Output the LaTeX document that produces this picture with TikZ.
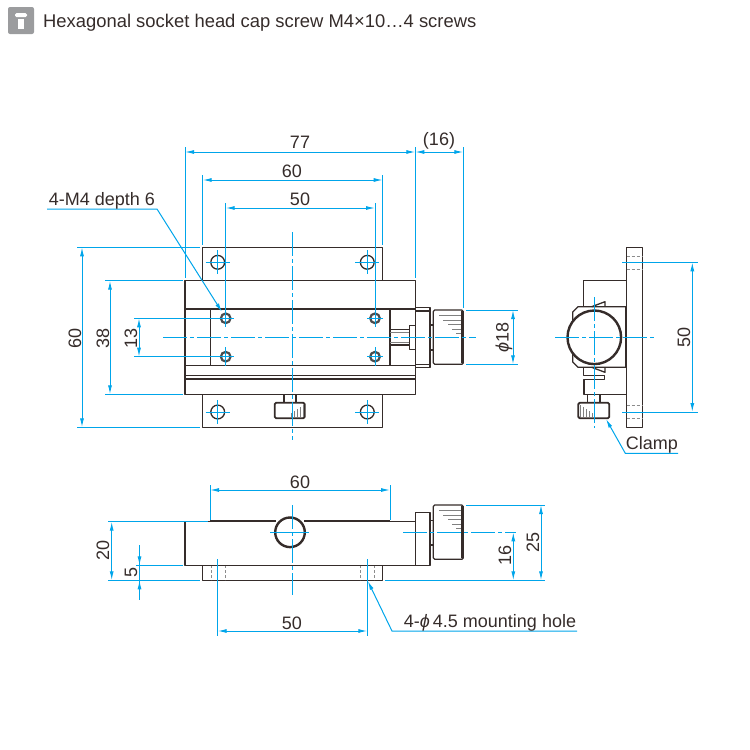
\documentclass[tikz,border=0pt]{standalone}
\usepackage{fontspec}
\setmainfont{Liberation Sans}
\usetikzlibrary{arrows.meta}
\definecolor{dimblue}{HTML}{00A5EA}
\definecolor{inkdark}{HTML}{352C2A}
\definecolor{iconnote}{HTML}{9B9C9E}
\tikzset{
  >={Latex[length=9pt,width=4pt]},
  part/.style={draw=inkdark,line width=1.3pt,line join=round},
  heavy/.style={draw=inkdark,line width=2.4pt},
  hidden/.style={draw=black!45,line width=0.7pt,dash pattern=on 3pt off 2pt},
  knurl/.style={draw=black!50,line width=1pt},
  dimline/.style={draw=dimblue,line width=1pt},
  centre/.style={draw=dimblue,line width=1pt,dash pattern=on 24pt off 3pt on 4pt off 3pt},
  label/.style={font=\fontsize{18}{20}\selectfont,text=inkdark,inner sep=0pt},
}
\begin{document}
\begin{tikzpicture}[x=1pt,y=-1pt]
    \useasboundingbox (0,0) rectangle (750,750);
    % header
    \fill[iconnote,rounded corners=2pt] (8,7) rectangle (34,34);
    \fill[white,rounded corners=1.5pt] (15,17) -- (15,13) -- (27,13) -- (27,17) -- cycle;
    \fill[white] (18,18.5) rectangle (24,29);
    \node[label,anchor=west,font=\fontsize{18.4}{20}\selectfont] (title) at (43,23) {Hexagonal socket head cap screw M4×10…4 screws};

    % front view
    \draw[part] (202.7,280.7) -- (202.7,247.3) -- (382.7,247.3) -- (382.7,280.7);
    \draw[part] (202.7,394.3) -- (202.7,427.3) -- (382.7,427.3) -- (382.7,394.3);
    \draw[part,fill=white] (185,280.7) rectangle (415.3,394.3);
    \draw[part] (185,309) -- (415.3,309);
    \draw[part] (185,365.5) -- (415.3,365.5);
    \draw[part] (185,375.7) -- (415.3,375.7);
    \draw[part] (185,379) -- (415.3,379);
    \draw[part] (210.3,309) -- (210.3,365.5);
    \draw[part] (390,309) -- (390,365.5);
    \foreach \px in {217.7,367.3}
      \foreach \py in {262.3,412}
        \draw[part] (\px,\py) circle (6.9);
    \foreach \px in {225.7,375}
      \foreach \py in {318.3,356.7} {
        \draw[draw=black!70,line width=2.2pt] (\px,\py) circle (4.8);
      }
    % knob at the right
    \draw[part] (390,329.3) -- (409.3,329.3);
    \draw[part] (390,345) -- (409.3,345);
    \draw[knurl] (390,332) -- (409.3,332);
    \draw[knurl] (390,342.5) -- (409.3,342.5);
    \draw[part] (409.3,325.3) rectangle (415.3,349.3);
    \draw[part] (415.3,307.7) rectangle (430,367.7);
    \draw[part] (415.3,311) -- (430,311);
    \draw[part] (415.3,364.3) -- (430,364.3);
    \draw[part] (430,325) rectangle (433.3,350);
    \draw[part,rounded corners=1.5pt] (433.3,310) rectangle (463.3,364.3);
    \draw[heavy] (462.6,311) -- (462.6,363.3);
    \foreach \ky/\kx in {315/439,320/443,324/448,329/452,333/456}
      \draw[knurl] (\kx,\ky) -- (461,\ky);
    % clamp below the front view
    \draw[part] (284,394.3) -- (284,402.7);
    \draw[part] (296,394.3) -- (296,402.7);
    \draw[part,line width=1.8pt,rounded corners=1.5pt] (274.7,402.7) rectangle (304.7,418.3);
    \foreach \kx/\ky in {303/405,300/407,297/409,294/411,291/413}
      \draw[knurl,line width=0.7pt] (\kx,\ky) -- (\kx,417);

    % side view
    \draw[part] (626.7,247.3) rectangle (642.3,427.3);
    \foreach \py in {256,269.3,405,418.3}
      \draw[hidden] (626.7,\py) -- (642.3,\py);
    \draw[part] (583.3,306.7) -- (583.3,280.7) -- (626.7,280.7);
    \draw[part] (583.3,367.3) -- (583.3,375.7) -- (604.3,375.7) -- (604.3,379.7) -- (584,379.7) -- (584,394.3) -- (626.7,394.3);
    \draw[part] (578,306.7) -- (625.7,306.7) -- (625.7,367.3) -- (578,367.3) -- (572.7,362) -- (572.7,312) -- cycle;
    \draw[heavy] (625.7,306.7) -- (625.7,367.3);
    \draw[part] (591.7,306.7) -- (605,301.7) -- (605,306.7);
    \draw[part] (591.7,367.3) -- (605,372.3) -- (605,367.3);
    \draw[draw=inkdark,line width=2.4pt,fill=white] (594.3,337.3) circle (26.8);
    \draw[part] (587.3,394.3) -- (587.3,402.7);
    \draw[part] (600,394.3) -- (600,402.7);
    \draw[part,line width=1.8pt,rounded corners=1.5pt] (578.3,402.7) rectangle (609.3,418.3);
    \foreach \kx/\ky in {580/405,583/407,586/409,589/411,592/413}
      \draw[knurl,line width=0.7pt] (\kx,\ky) -- (\kx,417);

    % top view
    \draw[part] (202.7,565.3) -- (202.7,580.3) -- (382.7,580.3) -- (382.7,565.3);
    \foreach \px in {211,225,360.7,374}
      \draw[hidden] (\px,565.3) -- (\px,580.3);
    \draw[part] (275,521.7) -- (185,521.7) -- (185,565.3) -- (415.3,565.3) -- (415.3,521.7) -- (305,521.7);
    \draw[heavy] (210,521.2) -- (276,521.2);
    \draw[heavy] (304,521.2) -- (390,521.2);
    \draw[draw=inkdark,line width=2.4pt,fill=white] (290,532.3) circle (14.8);
    \draw[part] (415.3,512.3) rectangle (430,565.3);
    \draw[part] (430,520.7) rectangle (433.3,545);
    \draw[part,rounded corners=1.5pt] (433.3,505) rectangle (463.3,559.3);
    \draw[heavy] (462.6,506) -- (462.6,558.3);
    \foreach \ky/\kx in {510/439,515/443,519/448,524/452,528/456}
      \draw[knurl] (\kx,\ky) -- (461,\ky);

    % centre lines
    \draw[centre] (292.7,232) -- (292.7,440);
    \draw[centre] (163,337.3) -- (476,337.3);
    \draw[centre] (555,337.3) -- (655,337.3);
    \draw[centre] (594,297) -- (594,428);
    \draw[centre] (292.7,505) -- (292.7,595);
    \draw[dimline] (270,532.3) -- (309,532.3);
    \draw[centre] (403,532.3) -- (516,532.3);
    \foreach \px in {217.7,367.3}
      \foreach \py in {262.3,412} {
        \draw[dimline] (\px-12,\py) -- (\px+12,\py);
        \draw[dimline] (\px,\py-12) -- (\px,\py+12);
      }
    \foreach \px in {225.7,375}
      \foreach \py in {318.3,356.7}
        \draw[dimline] (\px+8,\py) -- (\px-8,\py);
    \foreach \px in {225.7,375}
      \draw[dimline] (\px,347) -- (\px,366);

    % extension lines
    \draw[dimline] (185,147) -- (185,278);
    \draw[dimline] (415.3,147) -- (415.3,278);
    \draw[dimline] (463.3,147) -- (463.3,308);
    \draw[dimline] (202.7,175) -- (202.7,245);
    \draw[dimline] (382.7,175) -- (382.7,245);
    \draw[dimline] (225.7,203) -- (225.7,327);
    \draw[dimline] (375,203) -- (375,327);
    \draw[dimline] (77,247.3) -- (200,247.3);
    \draw[dimline] (77,427.3) -- (200,427.3);
    \draw[dimline] (105,280.7) -- (183,280.7);
    \draw[dimline] (105,394.3) -- (183,394.3);
    \draw[dimline] (134,318.3) -- (218,318.3);
    \draw[dimline] (134,356.7) -- (218,356.7);
    \draw[dimline] (466,310) -- (518,310);
    \draw[dimline] (466,364.3) -- (518,364.3);
    \draw[dimline] (622,262.3) -- (698,262.3);
    \draw[dimline] (622,412) -- (698,412);
    \draw[dimline] (210,485) -- (210,520);
    \draw[dimline] (390,485) -- (390,520);
    \draw[dimline] (108,521.7) -- (208,521.7);
    \draw[dimline] (136,565.3) -- (183,565.3);
    \draw[dimline] (108,580.3) -- (200,580.3);
    \draw[dimline] (385,580.3) -- (545,580.3);
    \draw[dimline] (466,505) -- (545,505);
    \draw[dimline] (217.7,559) -- (217.7,636);
    \draw[dimline] (367.3,559) -- (367.3,636);

    % dimension lines
    \draw[dimline,<->] (185,152) -- (415.3,152);
    \draw[dimline,<->] (415.3,152) -- (463.3,152);
    \draw[dimline,<->] (202.7,180) -- (382.7,180);
    \draw[dimline,<->] (225.7,208) -- (375,208);
    \draw[dimline,<->] (82,247.3) -- (82,427.3);
    \draw[dimline,<->] (110,280.7) -- (110,394.3);
    \draw[dimline,<->] (139,318.3) -- (139,356.7);
    \draw[dimline,<->] (513,310) -- (513,364.3);
    \draw[dimline,<->] (692.3,262.3) -- (692.3,412);
    \draw[dimline,<->] (210,490) -- (390,490);
    \draw[dimline,<->] (217.7,631) -- (367.3,631);
    \draw[dimline,<->] (111.7,521.7) -- (111.7,580.3);
    \draw[dimline] (139.5,545) -- (139.5,600);
    \draw[dimline,->] (139.5,550) -- (139.5,565.3);
    \draw[dimline,->] (139.5,595) -- (139.5,580.3);
    \draw[dimline,<->] (513.3,532.3) -- (513.3,580.3);
    \draw[dimline,<->] (541,505) -- (541,580.3);

    % leaders
    \draw[dimline,->] (47,209) -- (157,209) -- (222,312);
    \draw[dimline,->] (678,453.3) -- (625.3,453.3) -- (606,419);
    \draw[dimline,->] (577,631) -- (392,631) -- (367.8,581);

    % labels
    \node[label] (dimA) at (300,142) {77};
    \node[label] (dimB) at (439,141) {(16)};
    \node[label] (dimC) at (292,171) {60};
    \node[label] (dimD) at (300,199) {50};
    \node[label] (noteM) at (102,201) {4-M4 depth 6};
    \node[label,rotate=90] (dimE) at (75,338) {60};
    \node[label,rotate=90] (dimF) at (103,338) {38};
    \node[label,rotate=90] (dimG) at (131,338) {13};
    \node[label,rotate=90] (dimH) at (504,337) {{\itshape ϕ}18};
    \node[label,rotate=90] (dimI) at (684,337) {50};
    \node[label] (noteClamp) at (652,445) {Clamp};
    \node[label] (dimJ) at (300,482) {60};
    \node[label] (dimK) at (292,623) {50};
    \node[label,rotate=90] (dimL) at (103,550) {20};
    \node[label,rotate=90] (dimM) at (131,572) {5};
    \node[label,rotate=90] (dimN) at (505,555) {16};
    \node[label,rotate=90] (dimO) at (533,542) {25};
    \node[label] (noteHole) at (490,623) {4-{\itshape ϕ}\,4.5 mounting hole};
\end{tikzpicture}
\end{document}
